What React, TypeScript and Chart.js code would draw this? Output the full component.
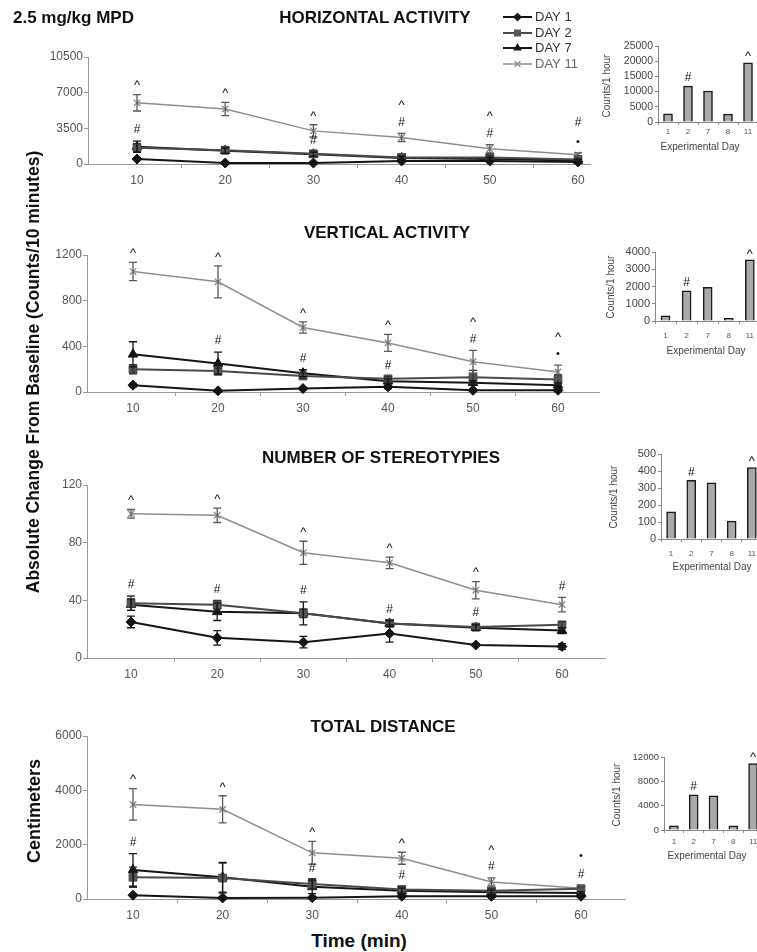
import React, { useEffect, useRef } from 'react';
import { Chart, registerables } from 'chart.js';

Chart.register(...registerables);

const FONT = "'Liberation Sans', Arial, Helvetica, sans-serif";

// ---- shared categories ----
const timePoints = [10, 20, 30, 40, 50, 60];
const seriesLabels = ['DAY 1', 'DAY 2', 'DAY 7', 'DAY 11'];
const expDays = ['1', '2', '7', '8', '11'];

// ---- horizontal activity (counts / 10 min): mean and SEM ----
const horizDay1 = [490, 100, 100, 300, 300, 200];
const horizDay2 = [1600, 1350, 1000, 650, 650, 450];
const horizDay7 = [1700, 1300, 950, 600, 500, 350];
const horizDay11 = [6000, 5400, 3250, 2600, 1500, 900];
const horizErr1 = [100, 50, 50, 80, 80, 50];
const horizErr2 = [400, 300, 250, 200, 200, 150];
const horizErr7 = [550, 250, 200, 150, 150, 100];
const horizErr11 = [800, 650, 600, 400, 400, 200];
const horizTicks = [0, 3500, 7000, 10500];

// ---- vertical activity ----
const vertDay1 = [60, 10, 30, 45, 15, 15];
const vertDay2 = [200, 185, 140, 115, 130, 110];
const vertDay7 = [330, 250, 165, 95, 80, 60];
const vertDay11 = [1055, 965, 565, 430, 265, 175];
const vertErr1 = [15, 10, 10, 15, 10, 10];
const vertErr2 = [40, 25, 20, 20, 60, 40];
const vertErr7 = [110, 100, 30, 20, 20, 20];
const vertErr11 = [80, 140, 50, 75, 100, 60];
const vertTicks = [0, 400, 800, 1200];

// ---- number of stereotypies ----
const stereoDay1 = [25, 14, 11, 17, 9, 8];
const stereoDay2 = [38, 37, 31, 24, 21.5, 23];
const stereoDay7 = [37, 32, 31, 24, 21, 19];
const stereoDay11 = [100, 99, 73, 66, 47, 37];
const stereoErr1 = [4, 5, 4, 6, 1, 2];
const stereoErr2 = [5, 3, 3, 2, 2, 2];
const stereoErr7 = [4, 6, 8, 2, 2, 2];
const stereoErr11 = [3, 5, 8, 4, 6, 5];
const stereoTicks = [0, 40, 80, 120];

// ---- total distance (cm) ----
const distDay1 = [140, 40, 50, 100, 100, 100];
const distDay2 = [800, 770, 550, 350, 300, 380];
const distDay7 = [1070, 800, 450, 300, 250, 220];
const distDay11 = [3480, 3300, 1700, 1500, 630, 400];
const distErr1 = [40, 20, 20, 30, 30, 30];
const distErr2 = [370, 550, 200, 100, 80, 80];
const distErr7 = [600, 550, 250, 100, 80, 60];
const distErr11 = [580, 500, 420, 220, 150, 80];
const distTicks = [0, 2000, 4000, 6000];

// ---- significance symbols (series index: 0=DAY 1 ... 3=DAY 11), listed bottom-up ----
type Mark = { time: number; series: number; marks: string[] };
const horizMarks: Mark[] = [
  { time: 10, series: 3, marks: ['^'] },
  { time: 10, series: 2, marks: ['#'] },
  { time: 20, series: 3, marks: ['^'] },
  { time: 30, series: 3, marks: ['^'] },
  { time: 30, series: 1, marks: ['#'] },
  { time: 40, series: 3, marks: ['#', '^'] },
  { time: 50, series: 3, marks: ['#', '^'] },
  { time: 60, series: 3, marks: ['•', '#'] },
];
const vertMarks: Mark[] = [
  { time: 10, series: 3, marks: ['^'] },
  { time: 20, series: 3, marks: ['^'] },
  { time: 20, series: 2, marks: ['#'] },
  { time: 30, series: 3, marks: ['^'] },
  { time: 30, series: 2, marks: ['#'] },
  { time: 40, series: 3, marks: ['^'] },
  { time: 40, series: 1, marks: ['#'] },
  { time: 50, series: 3, marks: ['#', '^'] },
  { time: 60, series: 3, marks: ['•', '^'] },
];
const stereoMarks: Mark[] = [
  { time: 10, series: 3, marks: ['^'] },
  { time: 10, series: 1, marks: ['#'] },
  { time: 20, series: 3, marks: ['^'] },
  { time: 20, series: 1, marks: ['#'] },
  { time: 30, series: 3, marks: ['^'] },
  { time: 30, series: 2, marks: ['#'] },
  { time: 40, series: 3, marks: ['^'] },
  { time: 40, series: 1, marks: ['#'] },
  { time: 50, series: 3, marks: ['^'] },
  { time: 50, series: 1, marks: ['#'] },
  { time: 60, series: 3, marks: ['#'] },
];
const distMarks: Mark[] = [
  { time: 10, series: 3, marks: ['^'] },
  { time: 10, series: 2, marks: ['#'] },
  { time: 20, series: 3, marks: ['^'] },
  { time: 30, series: 3, marks: ['^'] },
  { time: 30, series: 2, marks: ['#'] },
  { time: 40, series: 3, marks: ['^'] },
  { time: 40, series: 1, marks: ['#'] },
  { time: 50, series: 3, marks: ['#', '^'] },
  { time: 60, series: 3, marks: ['#', '•'] },
];

// ---- 1-hour totals per experimental day ----
const horizHourly = [2700, 11800, 10200, 2600, 19500];
const vertHourly = [300, 1750, 1950, 150, 3550];
const stereoHourly = [160, 345, 330, 105, 420];
const distHourly = [700, 5800, 5600, 700, 10900];
const horizHourlyTicks = [0, 5000, 10000, 15000, 20000, 25000];
const vertHourlyTicks = [0, 1000, 2000, 3000, 4000];
const stereoHourlyTicks = [0, 100, 200, 300, 400, 500];
const distHourlyTicks = [0, 4000, 8000, 12000];
const hourlyMarks = [
  { day: '2', mark: '#' },
  { day: '11', mark: '^' },
];

// ---- appearance ----
const seriesStyles = [
  { line: '#151515', point: 'rectRot', fill: '#151515', radius: 5, err: '#151515', width: 2 },
  { line: '#4a4a4a', point: 'rect', fill: '#555555', radius: 5.5, err: '#333333', width: 2 },
  { line: '#151515', point: 'triangle', fill: '#151515', radius: 5.5, err: '#151515', width: 2 },
  { line: '#8e8e8e', point: 'crossRot', fill: '#8e8e8e', radius: 4.5, err: '#5a5a5a', width: 1.5 },
];

const panels = [
  {
    values: [horizDay1, horizDay2, horizDay7, horizDay11],
    errors: [horizErr1, horizErr2, horizErr7, horizErr11],
    ticks: horizTicks,
    marks: horizMarks,
  },
  {
    values: [vertDay1, vertDay2, vertDay7, vertDay11],
    errors: [vertErr1, vertErr2, vertErr7, vertErr11],
    ticks: vertTicks,
    marks: vertMarks,
  },
  {
    values: [stereoDay1, stereoDay2, stereoDay7, stereoDay11],
    errors: [stereoErr1, stereoErr2, stereoErr7, stereoErr11],
    ticks: stereoTicks,
    marks: stereoMarks,
  },
  {
    values: [distDay1, distDay2, distDay7, distDay11],
    errors: [distErr1, distErr2, distErr7, distErr11],
    ticks: distTicks,
    marks: distMarks,
  },
];

// plot frames in page pixels
const panelFrames = [
  { top: 57, bottom: 164, left: 88, right: 590, x10: 137, x60: 578, padTop: 57 },
  { top: 255, bottom: 392, left: 87, right: 599, x10: 133, x60: 558, padTop: 40 },
  { top: 485, bottom: 658, left: 87, right: 605, x10: 131, x60: 562, padTop: 40 },
  { top: 736, bottom: 899, left: 87, right: 625, x10: 133, x60: 581, padTop: 40 },
];

const insets = [
  { values: horizHourly, ticks: horizHourlyTicks },
  { values: vertHourly, ticks: vertHourlyTicks },
  { values: stereoHourly, ticks: stereoHourlyTicks },
  { values: distHourly, ticks: distHourlyTicks },
];
const INSET_LEFT = 590;
const insetFrames = [
  { axisX: 658, top: 46, bottom: 122, step: 20, font: 10.5, labelGap: 10 },
  { axisX: 655, top: 252, bottom: 321, step: 21.2, font: 11, labelGap: 15 },
  { axisX: 661, top: 454, bottom: 539, step: 20.3, font: 11, labelGap: 15 },
  { axisX: 664, top: 757, bottom: 830, step: 19.75, font: 9.5, labelGap: 12 },
];

const LEGEND = { x: 503, rows: [17, 33, 48, 64] };

// ---- drawing helpers ----
function drawSymbol(ctx: CanvasRenderingContext2D, s: string, x: number, cy: number) {
  const spec: Record<string, [number, number]> = {
    '^': [13, 0.52],
    '#': [12, 0.36],
    '•': [11, 0.34],
  };
  const [size, c] = spec[s] || [12, 0.36];
  ctx.save();
  ctx.fillStyle = '#111';
  ctx.font = `${size}px ${FONT}`;
  ctx.textAlign = 'center';
  ctx.textBaseline = 'alphabetic';
  ctx.fillText(s, x, cy + c * size);
  ctx.restore();
}

function drawMarker(
  ctx: CanvasRenderingContext2D,
  style: string,
  x: number,
  y: number,
  r: number,
  fill: string,
  stroke: string
) {
  ctx.save();
  ctx.fillStyle = fill;
  ctx.strokeStyle = stroke;
  ctx.beginPath();
  if (style === 'rectRot') {
    ctx.moveTo(x - r, y);
    ctx.lineTo(x, y - r);
    ctx.lineTo(x + r, y);
    ctx.lineTo(x, y + r);
    ctx.closePath();
    ctx.fill();
  } else if (style === 'rect') {
    const s = r * Math.SQRT1_2;
    ctx.rect(x - s, y - s, 2 * s, 2 * s);
    ctx.fill();
  } else if (style === 'triangle') {
    ctx.moveTo(x, y - r);
    ctx.lineTo(x + r * 0.866, y + r * 0.5);
    ctx.lineTo(x - r * 0.866, y + r * 0.5);
    ctx.closePath();
    ctx.fill();
  } else {
    const s = r * Math.SQRT1_2;
    ctx.lineWidth = 1.4;
    ctx.moveTo(x - s, y - s);
    ctx.lineTo(x + s, y + s);
    ctx.moveTo(x + s, y - s);
    ctx.lineTo(x - s, y + s);
    ctx.stroke();
  }
  ctx.restore();
}

const errorBarPlugin = {
  id: 'errorBars',
  afterDatasetsDraw(chart: any) {
    const ctx: CanvasRenderingContext2D = chart.ctx;
    const yScale = chart.scales.y;
    chart.data.datasets.forEach((ds: any, i: number) => {
      if (!ds.errors) return;
      const meta = chart.getDatasetMeta(i);
      ctx.save();
      ctx.strokeStyle = ds.errorColor;
      ctx.lineWidth = 1.3;
      meta.data.forEach((pt: any, j: number) => {
        const v = ds.data[j].y;
        const e = ds.errors[j];
        const yt = yScale.getPixelForValue(v + e);
        const yb = yScale.getPixelForValue(v - e);
        const x = pt.x;
        ctx.beginPath();
        ctx.moveTo(x, yt);
        ctx.lineTo(x, yb);
        ctx.moveTo(x - 4, yt);
        ctx.lineTo(x + 4, yt);
        ctx.moveTo(x - 4, yb);
        ctx.lineTo(x + 4, yb);
        ctx.stroke();
      });
      ctx.restore();
    });
  },
};

function sigMarksPlugin(marks: Mark[]) {
  return {
    id: 'sigMarks',
    afterDraw(chart: any) {
      const ctx = chart.ctx;
      const xs = chart.scales.x;
      const ys = chart.scales.y;
      marks.forEach((m) => {
        const ds = chart.data.datasets[m.series];
        const j = timePoints.indexOf(m.time);
        const top = ds.data[j].y + ds.errors[j];
        const x = xs.getPixelForValue(m.time);
        const cy = ys.getPixelForValue(top) - 12;
        m.marks.forEach((s, k) => drawSymbol(ctx, s, x, cy - k * 19));
      });
    },
  };
}

const legendPlugin = {
  id: 'dayLegend',
  afterDraw(chart: any) {
    const ctx: CanvasRenderingContext2D = chart.ctx;
    chart.data.datasets.forEach((ds: any, i: number) => {
      const y = LEGEND.rows[i];
      const x0 = LEGEND.x;
      ctx.save();
      ctx.strokeStyle = ds.borderColor;
      ctx.lineWidth = ds.borderWidth;
      ctx.beginPath();
      ctx.moveTo(x0, y);
      ctx.lineTo(x0 + 29, y);
      ctx.stroke();
      drawMarker(ctx, ds.pointStyle, x0 + 14.5, y, ds.pointRadius * 0.9, ds.pointBackgroundColor, ds.pointBorderColor);
      ctx.fillStyle = i === 3 ? '#666' : '#333';
      ctx.font = `13px ${FONT}`;
      ctx.textAlign = 'left';
      ctx.textBaseline = 'middle';
      ctx.fillText(ds.label, x0 + 32, y + 0.5);
      ctx.restore();
    });
  },
};

function barMarksPlugin() {
  return {
    id: 'barMarks',
    afterDraw(chart: any) {
      const ctx = chart.ctx;
      const meta = chart.getDatasetMeta(0);
      hourlyMarks.forEach((m) => {
        const el = meta.data[expDays.indexOf(m.day)];
        if (el) drawSymbol(ctx, m.mark, el.x, el.y - 9);
      });
    },
  };
}

// ---- chart configurations ----
function lineConfig(p: (typeof panels)[number], f: (typeof panelFrames)[number], withLegend: boolean) {
  const ppu = (f.x60 - f.x10) / 50;
  const xMin = 10 - (f.x10 - f.left) / ppu;
  const xMax = 60 + (f.right - f.x60) / ppu;
  const xTickValues: number[] = [];
  timePoints.forEach((t, i) => {
    xTickValues.push(t);
    if (i < timePoints.length - 1) xTickValues.push((t + timePoints[i + 1]) / 2);
  });
  const plugins: any[] = [errorBarPlugin, sigMarksPlugin(p.marks)];
  if (withLegend) plugins.push(legendPlugin);
  return {
    type: 'line',
    data: {
      datasets: p.values.map((vals, i) => {
        const st = seriesStyles[i];
        return {
          label: seriesLabels[i],
          data: timePoints.map((t, j) => ({ x: t, y: vals[j] })),
          errors: p.errors[i],
          errorColor: st.err,
          borderColor: st.line,
          backgroundColor: st.fill,
          borderWidth: st.width,
          pointStyle: st.point,
          pointRadius: st.radius,
          pointBackgroundColor: st.fill,
          pointBorderColor: st.line,
          pointBorderWidth: st.point === 'crossRot' ? 1.4 : 1,
          tension: 0,
          fill: false,
          clip: false,
        };
      }),
    },
    options: {
      responsive: false,
      animation: false,
      events: [],
      layout: { padding: { top: f.padTop, right: 10, left: 0, bottom: 0 } },
      plugins: { legend: { display: false }, tooltip: { enabled: false }, title: { display: false } },
      scales: {
        x: {
          type: 'linear',
          min: xMin,
          max: xMax,
          afterBuildTicks: (s: any) => {
            s.ticks = xTickValues.map((v) => ({ value: v }));
          },
          afterFit: (s: any) => {
            s.height = 30;
          },
          grid: {
            drawOnChartArea: false,
            drawTicks: true,
            tickLength: 4,
            color: '#999',
            tickColor: (c: any) => (c.tick && c.tick.value % 10 === 0 ? 'rgba(0,0,0,0)' : '#999'),
          },
          border: { display: true, color: '#999', width: 1 },
          ticks: {
            autoSkip: false,
            maxRotation: 0,
            padding: 5,
            color: '#555',
            font: { family: FONT, size: 12 },
            callback: (v: any) => (Number(v) % 10 === 0 ? String(v) : ''),
          },
        },
        y: {
          type: 'linear',
          min: 0,
          max: p.ticks[p.ticks.length - 1],
          afterBuildTicks: (s: any) => {
            s.ticks = p.ticks.map((v) => ({ value: v }));
          },
          afterFit: (s: any) => {
            s.width = f.left;
          },
          grid: { drawOnChartArea: false, drawTicks: true, tickLength: 4, color: '#999' },
          border: { display: true, color: '#999', width: 1 },
          ticks: {
            autoSkip: false,
            padding: 1,
            color: '#555',
            font: { family: FONT, size: 12 },
            callback: (v: any) => String(v),
          },
        },
      },
    },
    plugins,
  };
}

function barConfig(ins: (typeof insets)[number], f: (typeof insetFrames)[number]) {
  return {
    type: 'bar',
    data: {
      labels: expDays,
      datasets: [
        {
          data: ins.values,
          backgroundColor: '#a9a9a9',
          borderColor: '#1a1a1a',
          borderWidth: 1.5,
          barThickness: 9,
        },
      ],
    },
    options: {
      responsive: false,
      animation: false,
      events: [],
      layout: { padding: { top: 22, right: 0, left: 0, bottom: 0 } },
      plugins: { legend: { display: false }, tooltip: { enabled: false } },
      scales: {
        x: {
          type: 'category',
          offset: true,
          afterFit: (s: any) => {
            s.height = 26;
          },
          grid: { offset: true, drawOnChartArea: false, tickLength: 3, color: '#888' },
          border: { display: true, color: '#888', width: 1 },
          ticks: {
            autoSkip: false,
            maxRotation: 0,
            padding: f.labelGap - 3 - 5,
            color: '#555',
            font: { family: FONT, size: 8 },
          },
        },
        y: {
          type: 'linear',
          min: 0,
          max: ins.ticks[ins.ticks.length - 1],
          afterBuildTicks: (s: any) => {
            s.ticks = ins.ticks.map((v) => ({ value: v }));
          },
          afterFit: (s: any) => {
            s.width = f.axisX - INSET_LEFT;
          },
          grid: { drawOnChartArea: false, tickLength: 3, color: '#888' },
          border: { display: true, color: '#888', width: 1 },
          ticks: {
            autoSkip: false,
            padding: 2,
            color: '#444',
            font: { family: FONT, size: f.font },
            callback: (v: any) => String(v),
          },
        },
      },
    },
    plugins: [barMarksPlugin()],
  };
}

// ---- components ----
function ChartCanvas(props: { left: number; top: number; width: number; height: number; build: () => any }) {
  const ref = useRef<HTMLCanvasElement>(null);
  useEffect(() => {
    const chart = new Chart(ref.current as HTMLCanvasElement, props.build());
    return () => chart.destroy();
  }, []);
  return (
    <canvas
      ref={ref}
      width={props.width}
      height={props.height}
      style={{ position: 'absolute', left: props.left, top: props.top, width: props.width, height: props.height }}
    />
  );
}

function Txt(props: {
  x: number;
  y: number;
  size: number;
  bold?: boolean;
  color?: string;
  rotate?: boolean;
  left?: boolean;
  children: React.ReactNode;
}) {
  const tx = props.left ? '0' : '-50%';
  return (
    <div
      style={{
        position: 'absolute',
        left: props.x,
        top: props.y,
        transform: `translate(${tx}, -50%)${props.rotate ? ' rotate(-90deg)' : ''}`,
        fontSize: props.size,
        fontWeight: props.bold ? 700 : 400,
        color: props.color || '#111',
        whiteSpace: 'nowrap',
        lineHeight: 1,
        fontFamily: FONT,
      }}
    >
      {props.children}
    </div>
  );
}

const panelTitles = [
  { text: 'HORIZONTAL ACTIVITY', x: 375, y: 17 },
  { text: 'VERTICAL ACTIVITY', x: 387, y: 232 },
  { text: 'NUMBER OF STEREOTYPIES', x: 381, y: 457 },
  { text: 'TOTAL DISTANCE', x: 383, y: 726 },
];
const insetLabelPos = [
  { cx: 607, cy: 86, ex: 700, ey: 147 },
  { cx: 611, cy: 287, ex: 706, ey: 351 },
  { cx: 614, cy: 497, ex: 712, ey: 567 },
  { cx: 617, cy: 795, ex: 707, ey: 856 },
];

export default function App() {
  return (
    <div
      style={{
        position: 'absolute',
        left: 0,
        top: 0,
        width: 757,
        height: 952,
        overflow: 'hidden',
        background: '#fff',
        fontFamily: FONT,
      }}
    >
      {panels.map((p, i) => {
        const f = panelFrames[i];
        const top = f.top - f.padTop;
        const height = f.padTop + (f.bottom - f.top) + 30;
        return (
          <ChartCanvas
            key={'p' + i}
            left={0}
            top={top}
            width={f.right + 10}
            height={height}
            build={() => lineConfig(p, f, i === 0)}
          />
        );
      })}
      {insets.map((ins, i) => {
        const f = insetFrames[i];
        const width = Math.round(f.axisX + 5 * f.step - INSET_LEFT);
        const height = 22 + (f.bottom - f.top) + 26;
        return (
          <ChartCanvas
            key={'b' + i}
            left={INSET_LEFT}
            top={f.top - 22}
            width={width}
            height={height}
            build={() => barConfig(ins, f)}
          />
        );
      })}

      <Txt x={13} y={17} size={17} bold left>
        2.5 mg/kg MPD
      </Txt>
      {panelTitles.map((t) => (
        <Txt key={t.text} x={t.x} y={t.y} size={17} bold>
          {t.text}
        </Txt>
      ))}
      <Txt x={34} y={372} size={17.5} bold rotate>
        Absolute Change From Baseline (Counts/10 minutes)
      </Txt>
      <Txt x={34} y={811} size={18} bold rotate>
        Centimeters
      </Txt>
      <Txt x={359} y={940} size={19} bold>
        Time (min)
      </Txt>
      {insetLabelPos.map((p, i) => (
        <React.Fragment key={'l' + i}>
          <Txt x={p.cx} y={p.cy} size={10} color="#444" rotate>
            Counts/1 hour
          </Txt>
          <Txt x={p.ex} y={p.ey} size={10} color="#444">
            Experimental Day
          </Txt>
        </React.Fragment>
      ))}
    </div>
  );
}
